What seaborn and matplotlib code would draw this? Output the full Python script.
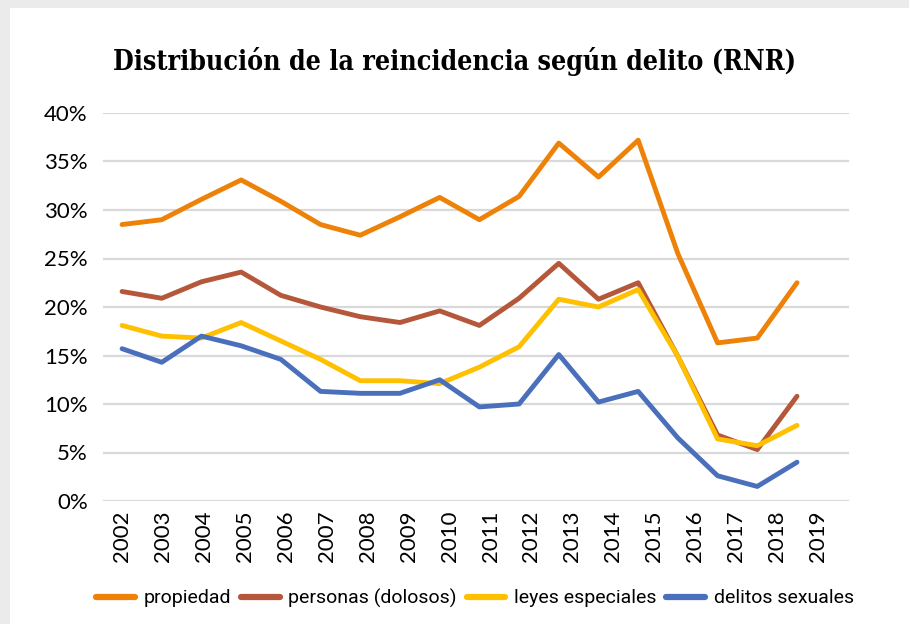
import numpy as np
import pandas as pd
import matplotlib.pyplot as plt
import seaborn as sns
from matplotlib.patches import Rectangle

# Values (share of recidivism, %)
years = [str(y) for y in range(2002, 2020)]
propiedad = [28.5, 29.0, 31.1, 33.1, 30.9, 28.5, 27.4, 29.3, 31.3, 29.0,
             31.4, 36.9, 33.4, 37.2, 25.5, 16.3, 16.8, 22.5]
personas = [21.6, 20.9, 22.6, 23.6, 21.2, 20.0, 19.0, 18.4, 19.6, 18.1,
            20.9, 24.5, 20.8, 22.5, 14.9, 6.8, 5.3, 10.8]
leyes = [18.1, 17.0, 16.8, 18.4, 16.5, 14.6, 12.4, 12.4, 12.1, 13.8,
         15.9, 20.8, 20.0, 21.8, 14.9, 6.4, 5.7, 7.8]
sexuales = [15.7, 14.3, 17.0, 16.0, 14.6, 11.3, 11.1, 11.1, 12.5, 9.7,
            10.0, 15.1, 10.2, 11.3, 6.5, 2.6, 1.5, 4.0]

series = {
    'propiedad': propiedad,
    'personas (dolosos)': personas,
    'leyes especiales': leyes,
    'delitos sexuales': sexuales,
}
colors = ['#EE8208', '#B4573A', '#FFC000', '#4A6FBB']

rows = []
for name, vals in series.items():
    for i, v in enumerate(vals):
        rows.append({'idx': i, 'valor': v, 'serie': name})
df = pd.DataFrame(rows)

sns.set_style('white')
plt.rcParams['font.family'] = ['Lato', 'DejaVu Sans']
plt.rcParams['text.color'] = 'black'
plt.rcParams['xtick.color'] = 'black'
plt.rcParams['ytick.color'] = 'black'

fig = plt.figure(figsize=(9.09, 6.24), dpi=100, facecolor='#EBEBEB')
# white card on the grey background
fig.patches.append(Rectangle((10 / 909, 0), 1, 1 - 8 / 624, transform=fig.transFigure,
                             facecolor='white', edgecolor='none', zorder=-5))

ax = fig.add_axes([103 / 909, 123 / 624, 746 / 909, 388 / 624])
ax.set_facecolor('none')

sns.lineplot(data=df, x='idx', y='valor', hue='serie', palette=colors,
             linewidth=3.5, ax=ax, legend=False, solid_capstyle='round')

ax.set_ylim(0, 40)
ax.set_xlim(-0.48, 18.31)
ax.set_yticks(range(0, 41, 5))
ax.set_yticklabels([f'{v}%' for v in range(0, 41, 5)], fontsize=16)
ax.set_xticks(np.linspace(0, 17.53, len(years)))
ax.set_xticklabels(years, rotation=90, fontsize=16)
ax.tick_params(length=0, pad=7)
ax.tick_params(axis='y', pad=11)
ax.yaxis.grid(True, color='#D9D9D9', linewidth=1.6)
ax.set_axisbelow(True)
for s in ax.spines.values():
    s.set_visible(False)
ax.set_xlabel('')
ax.set_ylabel('')

handles = [plt.Line2D([], [], color=c, linewidth=4.5, solid_capstyle='round') for c in colors]
fig.legend(handles, list(series.keys()), loc='center', bbox_to_anchor=(0.5226, 1 - 598 / 624),
           ncol=4, frameon=False, handlelength=2.0, columnspacing=0.5, handletextpad=0.45,
           prop={'family': ['Roboto', 'DejaVu Sans'], 'size': 14})

fig.text(0.5, 1 - 62 / 624, 'Distribución de la reincidencia según delito (RNR)',
         ha='center', va='center', fontsize=19.2, fontweight='heavy', fontstretch='condensed',
         family=['DejaVu Serif'])

fig.savefig('out.png', dpi=100, facecolor=fig.get_facecolor())
